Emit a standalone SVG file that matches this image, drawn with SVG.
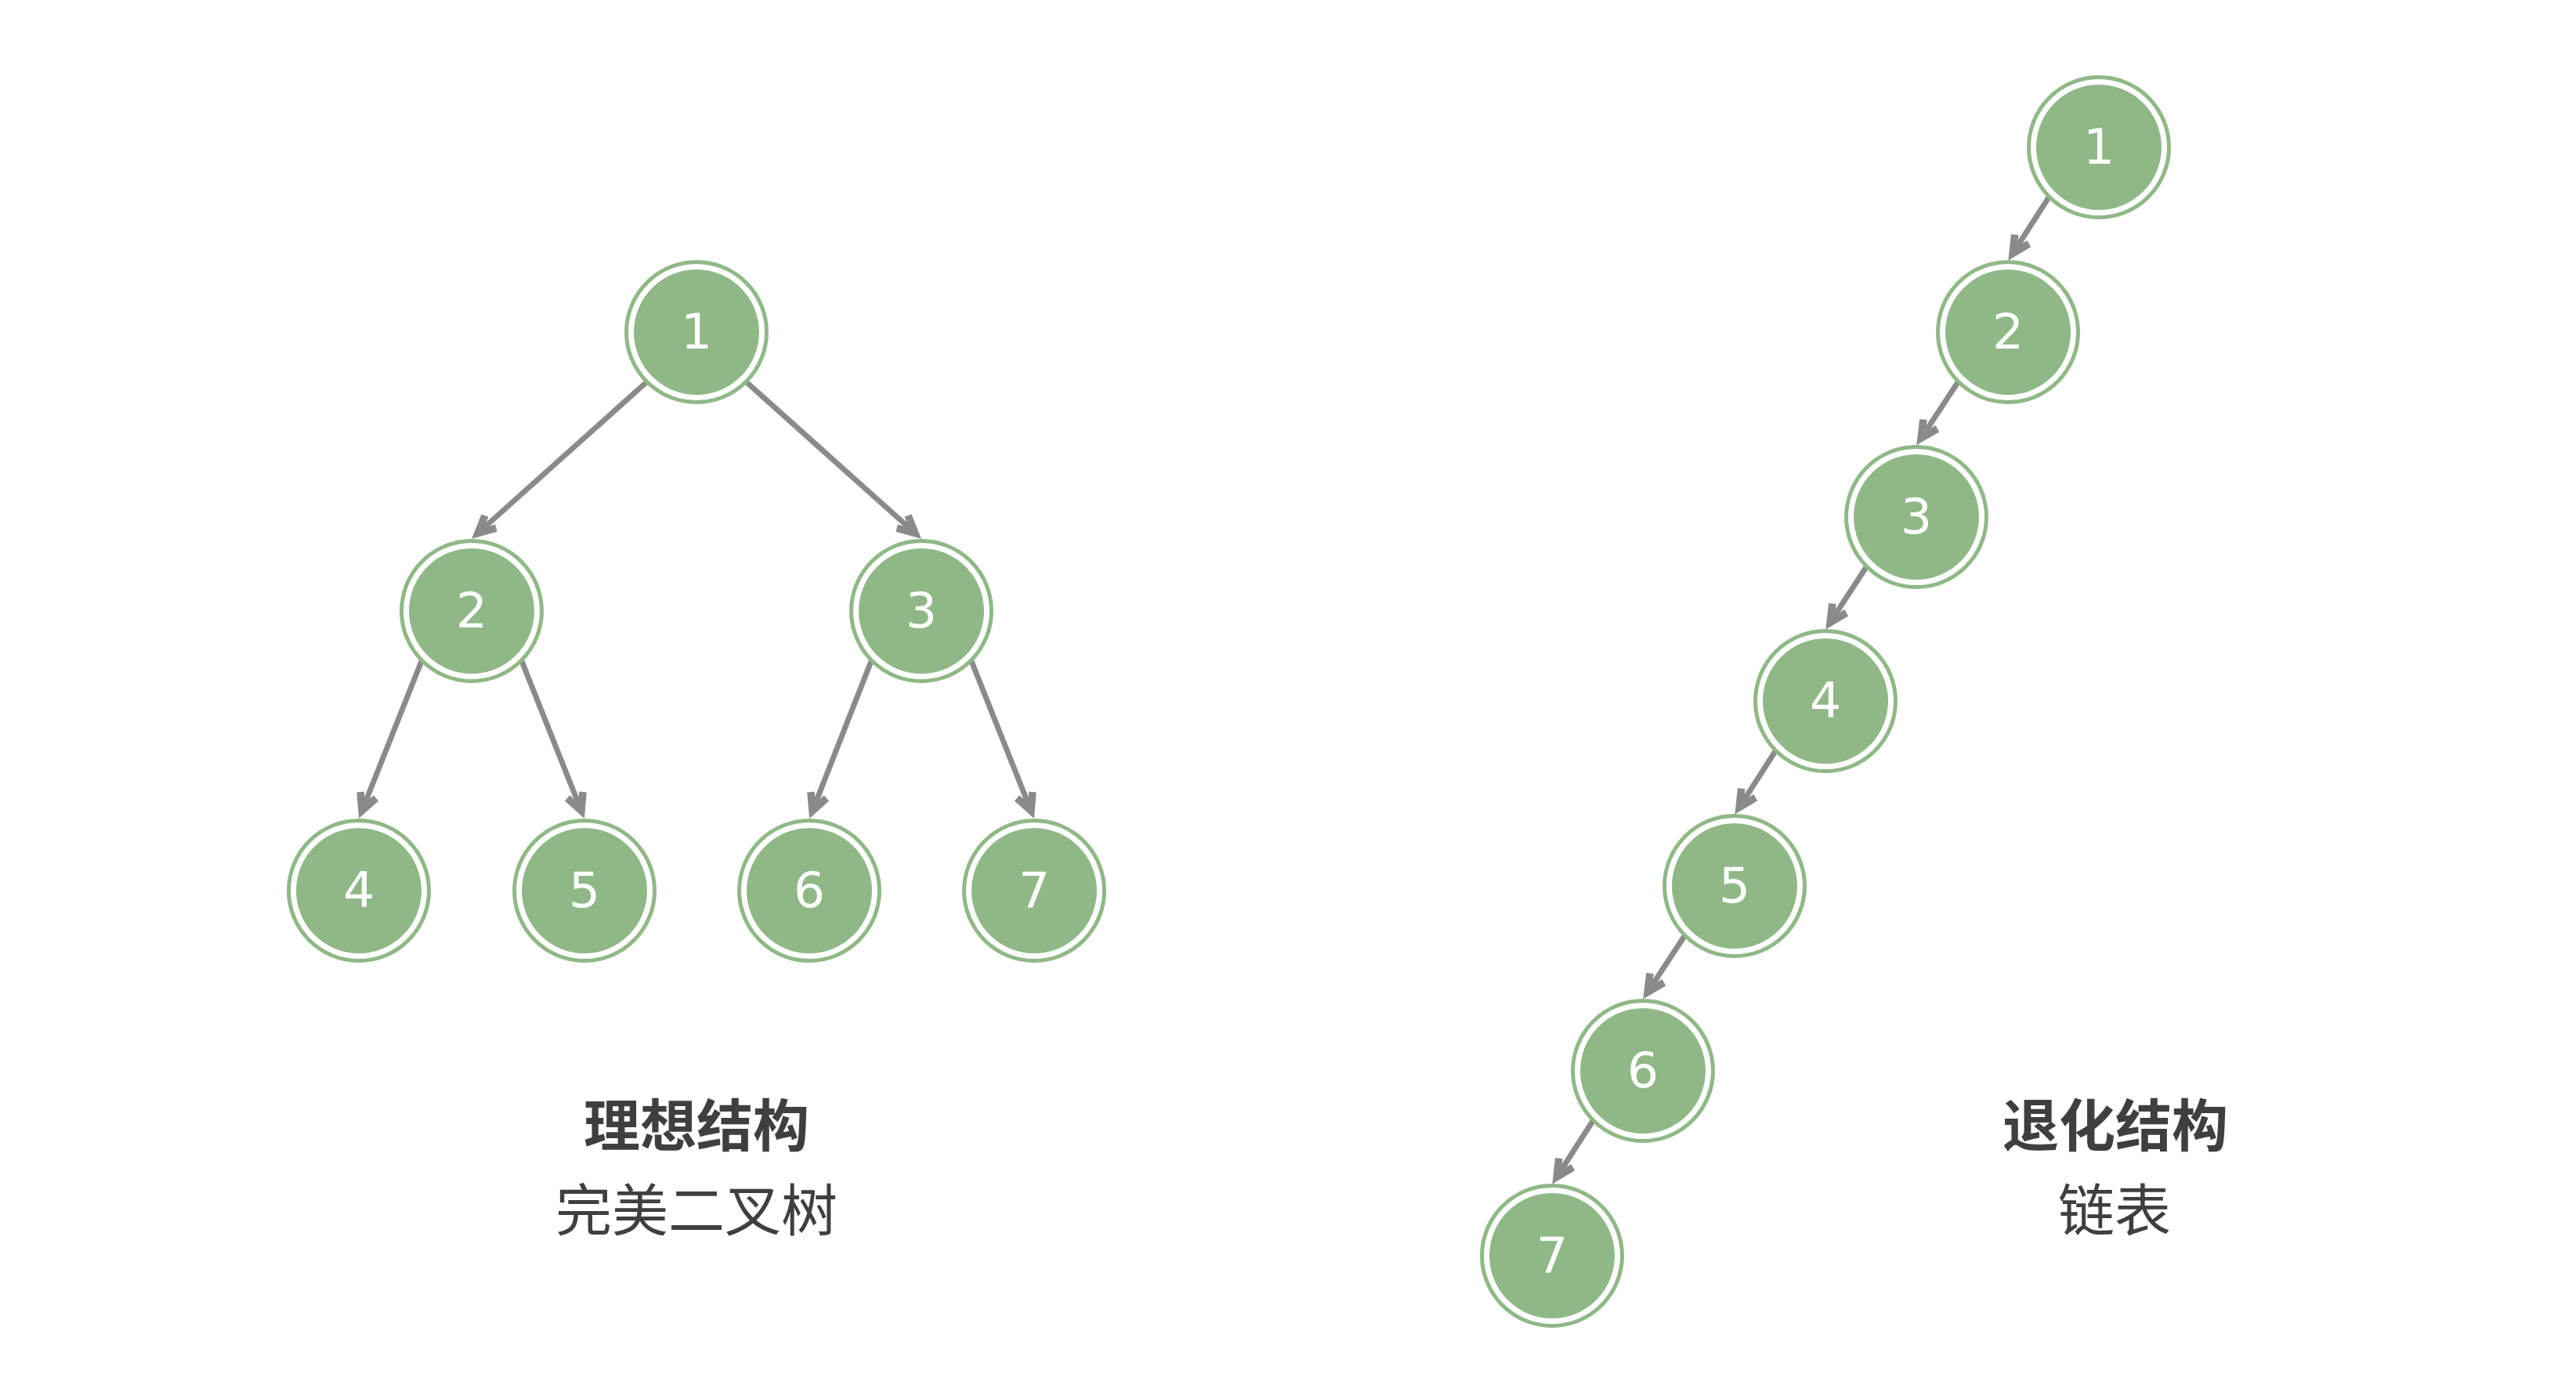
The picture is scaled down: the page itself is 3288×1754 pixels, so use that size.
<svg xmlns="http://www.w3.org/2000/svg" width="3288" height="1754" viewBox="0 0 3288 1754">
<style>
.fill{fill:#8fb886}
.ring{fill:none;stroke:#8fb886;stroke-width:5}
.num{font-family:"DejaVu Sans","Liberation Sans",sans-serif;font-size:63px;fill:#ffffff;text-anchor:middle}
.edge{stroke:#8a8a8a;stroke-width:7;fill:none;marker-end:url(#arrow)}
.title{font-family:"Noto Sans CJK SC","Noto Sans",sans-serif;font-size:72px;font-weight:bold;fill:#3f3f3f;text-anchor:middle}
.sub{font-family:"Noto Sans CJK SC","Noto Sans",sans-serif;font-size:72px;fill:#3f3f3f;text-anchor:middle}
</style>
<defs>
<marker id="arrow" markerUnits="userSpaceOnUse" viewBox="-40 -20 44 40" refX="-16" refY="0" markerWidth="44" markerHeight="40" orient="auto" overflow="visible">
<path d="M0,0 L-30,-15 L-34.5,-6.5 L-21,0 L-34.5,6.5 L-30,15 Z" fill="#8a8a8a"/>
</marker>
</defs>
<rect width="3288" height="1754" fill="#ffffff"/>
<g id="connectors">
<line class="edge" x1="825" y1="488" x2="614" y2="677"/>
<line class="edge" x1="953" y1="488" x2="1164" y2="677"/>
<line class="edge" x1="538" y1="844" x2="464" y2="1030"/>
<line class="edge" x1="666" y1="844" x2="740" y2="1030"/>
<line class="edge" x1="1112" y1="844" x2="1039" y2="1030"/>
<line class="edge" x1="1240" y1="844" x2="1314" y2="1030"/>
<line class="edge" x1="2615" y1="252" x2="2572" y2="319"/>
<line class="edge" x1="2499" y1="488" x2="2455" y2="555"/>
<line class="edge" x1="2382" y1="724" x2="2339" y2="790"/>
<line class="edge" x1="2266" y1="959" x2="2223" y2="1026"/>
<line class="edge" x1="2150" y1="1195" x2="2106" y2="1262"/>
<line class="edge" x1="2033" y1="1431" x2="1990" y2="1498"/>
</g>
<g id="tree-node-1"><circle class="ring" cx="889" cy="424" r="89.5"/><circle class="fill" cx="889" cy="424" r="80"/><text class="num" x="889" y="445">1</text></g>
<g id="tree-node-2"><circle class="ring" cx="602" cy="780" r="89.5"/><circle class="fill" cx="602" cy="780" r="80"/><text class="num" x="602" y="801">2</text></g>
<g id="tree-node-3"><circle class="ring" cx="1176" cy="780" r="89.5"/><circle class="fill" cx="1176" cy="780" r="80"/><text class="num" x="1176" y="801">3</text></g>
<g id="tree-node-4"><circle class="ring" cx="458" cy="1137" r="89.5"/><circle class="fill" cx="458" cy="1137" r="80"/><text class="num" x="458" y="1158">4</text></g>
<g id="tree-node-5"><circle class="ring" cx="746" cy="1137" r="89.5"/><circle class="fill" cx="746" cy="1137" r="80"/><text class="num" x="746" y="1158">5</text></g>
<g id="tree-node-6"><circle class="ring" cx="1033" cy="1137" r="89.5"/><circle class="fill" cx="1033" cy="1137" r="80"/><text class="num" x="1033" y="1158">6</text></g>
<g id="tree-node-7"><circle class="ring" cx="1320" cy="1137" r="89.5"/><circle class="fill" cx="1320" cy="1137" r="80"/><text class="num" x="1320" y="1158">7</text></g>
<g id="list-node-1"><circle class="ring" cx="2679" cy="188" r="89.5"/><circle class="fill" cx="2679" cy="188" r="80"/><text class="num" x="2679" y="209">1</text></g>
<g id="list-node-2"><circle class="ring" cx="2563" cy="424" r="89.5"/><circle class="fill" cx="2563" cy="424" r="80"/><text class="num" x="2563" y="445">2</text></g>
<g id="list-node-3"><circle class="ring" cx="2446" cy="660" r="89.5"/><circle class="fill" cx="2446" cy="660" r="80"/><text class="num" x="2446" y="681">3</text></g>
<g id="list-node-4"><circle class="ring" cx="2330" cy="895" r="89.5"/><circle class="fill" cx="2330" cy="895" r="80"/><text class="num" x="2330" y="916">4</text></g>
<g id="list-node-5"><circle class="ring" cx="2214" cy="1131" r="89.5"/><circle class="fill" cx="2214" cy="1131" r="80"/><text class="num" x="2214" y="1152">5</text></g>
<g id="list-node-6"><circle class="ring" cx="2097" cy="1367" r="89.5"/><circle class="fill" cx="2097" cy="1367" r="80"/><text class="num" x="2097" y="1388">6</text></g>
<g id="list-node-7"><circle class="ring" cx="1981" cy="1603" r="89.5"/><circle class="fill" cx="1981" cy="1603" r="80"/><text class="num" x="1981" y="1624">7</text></g>
<g id="labels">
<text class="title" x="889" y="1463">理想结构</text>
<text class="sub" x="889" y="1571">完美二叉树</text>
<text class="title" x="2700" y="1463">退化结构</text>
<text class="sub" x="2699" y="1571">链表</text>
</g>
</svg>
